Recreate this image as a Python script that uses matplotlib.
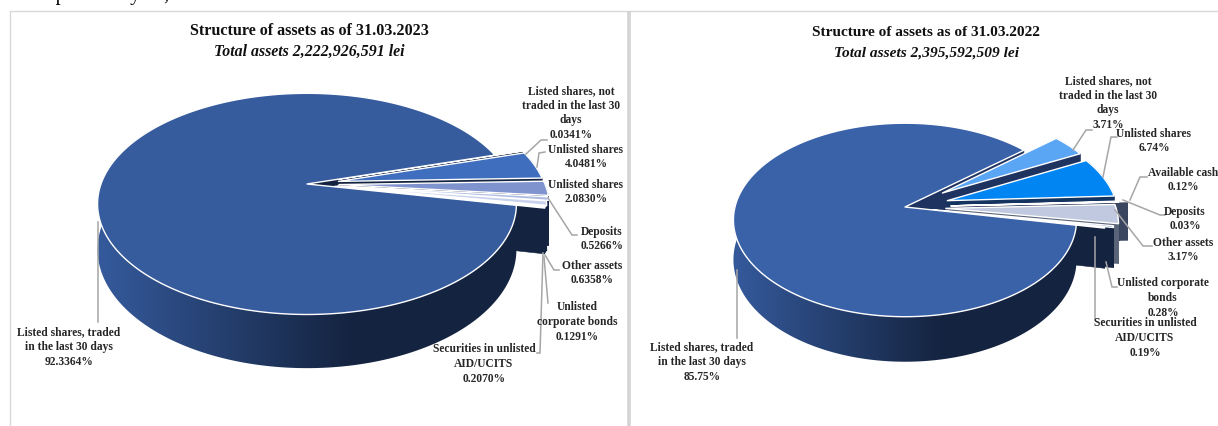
import numpy as np
import matplotlib
matplotlib.use('Agg')
import matplotlib.pyplot as plt
from matplotlib.colors import LinearSegmentedColormap
from matplotlib.patches import Polygon

plt.rcParams['font.family'] = ['Liberation Serif', 'DejaVu Serif']

NAMES_2023 = ['Listed shares, traded\nin the last 30 days', 'Listed shares, not\ntraded in the last 30\ndays',
              'Unlisted shares', 'Unlisted shares', 'Deposits', 'Other assets',
              'Unlisted\ncorporate bonds', 'Securities in unlisted\nAID/UCITS']
VALUES_2023 = [92.3364, 0.0341, 4.0481, 2.0830, 0.5266, 0.6358, 0.1291, 0.2070]
TEXT_2023 = ['92.3364%', '0.0341%', '4.0481%', '2.0830%', '0.5266%', '0.6358%', '0.1291%', '0.2070%']

NAMES_2022 = ['Listed shares, traded\nin the last 30 days', 'Listed shares, not\ntraded in the last 30\ndays',
              'Unlisted shares', 'Available cash', 'Deposits', 'Other assets',
              'Unlisted corporate\nbonds', 'Securities in unlisted\nAID/UCITS']
VALUES_2022 = [85.75, 3.71, 6.74, 0.12, 0.03, 3.17, 0.28, 0.19]
TEXT_2022 = ['85.75%', '3.71%', '6.74%', '0.12%', '0.03%', '3.17%', '0.28%', '0.19%']

COLORS_2023 = ['#375C9E', '#2F5597', '#3F6EBE', '#7F93CF', '#AEBCE3', '#C9D2EC', '#DDE3F4', '#EEF1F9']
WALLS_2023 = ['#14233F'] * 8
COLORS_2022 = ['#3A62A8', '#5BA5F5', '#0085F2', '#1F4E9A', '#2F5597', '#C1C9E0', '#3F6EBE', '#8FA2D4']
WALLS_2022 = ['#1F3360', '#1F3360', '#14335F', '#3A4660', '#3A4660', '#5A6478', '#14233F', '#14233F']

# how far each slice is pulled out, share of the radius
EXPLODE_2023 = [0, 0.155, 0.155, 0.155, 0.15, 0.14, 0.135, 0.13]
EXPLODE_2022 = [0, 0.27, 0.26, 0.32, 0.27, 0.24, 0.21, 0.16]

# label centres, in pixels of the picture
LABEL_XY_2023 = [(69, 347), (571, 113), (586, 157), (586, 192), (602, 239), (592, 273), (577, 322), (484, 364)]
LABEL_XY_2022 = [(702, 362), (1108, 103), (1154, 141), (1183, 180), (1185, 219), (1183, 250), (1163, 298), (1145, 338)]

LEADERS_2023 = [
    [(98, 222), (98, 322)],
    [(526, 154), (541, 140), (547, 140)],
    [(537, 167), (539, 153), (545, 152)],
    [(548, 198), (572, 235), (577, 235)],
    [(545, 255), (554, 270), (559, 270)],
    [(544, 257), (548, 303)],
    [(543, 253), (540, 353), (537, 353)],
]
LEADERS_2022 = [
    [(737, 270), (737, 338)],
    [(1073, 150), (1086, 130), (1092, 130)],
    [(1103, 177), (1111, 137), (1117, 137)],
    [(1130, 200), (1140, 177), (1147, 177)],
    [(1123, 200), (1160, 215), (1165, 215)],
    [(1115, 210), (1143, 246), (1152, 246)],
    [(1106, 262), (1112, 287), (1117, 287)],
    [(1095, 237), (1095, 320)],
]


class Pie3D:
    def __init__(self, ax, cx, cy, rx, ry, k, depth):
        self.ax, self.cx, self.cy, self.rx, self.ry, self.k, self.depth = ax, cx, cy, rx, ry, k, depth

    def project(self, X, Y, z=0.0):
        X, Y = np.asarray(X, float), np.asarray(Y, float)
        w = 1 + self.k * Y
        return self.cx + self.rx * X / w, self.cy - self.ry * Y / w + z * self.depth / w

    def arc(self, t0, t1, off):
        t = np.radians(np.linspace(t0, t1, max(int(abs(t1 - t0) * 2), 4)))
        return off[0] + np.cos(t), off[1] + np.sin(t)

    def top(self, t0, t1, off, color):
        X, Y = self.arc(t0, t1, off)
        px, py = self.project(np.r_[off[0], X], np.r_[off[1], Y])
        self.ax.fill(px, py, facecolor=color, edgecolor='white', lw=1.0, joinstyle='round')

    def side(self, t, off, color):
        X = np.array([off[0], off[0] + np.cos(np.radians(t))])
        Y = np.array([off[1], off[1] + np.sin(np.radians(t))])
        x0, y0 = self.project(X, Y)
        x1, y1 = self.project(X[::-1], Y[::-1], 1)
        self.ax.fill(np.r_[x0, x1], np.r_[y0, y1], facecolor=color, edgecolor=color, lw=0.4)

    def wall(self, t0, t1, off, color, fade=None):
        X, Y = self.arc(t0, t1, off)
        x0, y0 = self.project(X, Y)
        x1, y1 = self.project(X, Y, 1)
        px, py = np.r_[x0, x1[::-1]], np.r_[y0, y1[::-1]]
        if fade is None:
            self.ax.fill(px, py, facecolor=color, edgecolor=color, lw=0.4)
            return
        # outer wall of the big slice: lighter on the left, dark from the middle on
        shape = Polygon(np.c_[px, py], closed=True, transform=self.ax.transData, fc='none', ec='none')
        self.ax.add_patch(shape)
        cmap = LinearSegmentedColormap.from_list('wall', [fade, color])
        left = px.min() - 1
        right = left + self.rx * 1.25
        grad = np.linspace(0, 1, 256).reshape(1, -1)
        self.ax.imshow(grad, cmap=cmap, aspect='auto', clip_path=shape, interpolation='bilinear',
                       extent=(left, right, py.max() + 1, py.min() - 1))
        self.ax.imshow(np.ones((1, 1)), cmap=cmap, vmin=0, vmax=1, aspect='auto', clip_path=shape,
                       extent=(right - 0.5, px.max() + 1, py.max() + 1, py.min() - 1))


def draw_pie(ax, values, colors, walls, explode, names, texts, label_xy, leaders, big_end,
             cx, cy, rx, ry, k, depth, fade):
    pie = Pie3D(ax, cx, cy, rx, ry, k, depth)
    angles = np.array(values) / sum(values) * 360
    big_start = big_end - 360 + angles[0]

    pie.side(big_end, (0, 0), walls[0])

    t = big_end
    for val, col, wal, e in zip(angles[1:], colors[1:], walls[1:], explode[1:]):
        t1 = t - val
        mid = np.radians((t + t1) / 2)
        off = (e * np.cos(mid), e * np.sin(mid))
        pie.side(t1, off, wal)
        pie.wall(t, t1, off, wal)
        pie.top(t, t1, off, col)
        t = t1

    pie.wall(big_start, big_start - 205, (0, 0), '#14233F', fade=fade)
    pie.top(big_start, big_start - angles[0], (0, 0), colors[0])

    for pts in leaders:
        xs, ys = zip(*pts)
        ax.plot(xs, ys, color='#A6A6A6', lw=1.1, solid_joinstyle='miter')
    for name, txt, (x, y) in zip(names, texts, label_xy):
        ax.text(x, y, name + '\n' + txt, ha='center', va='center', fontsize=8.3,
                fontweight='bold', color='#262626', linespacing=1.3)


fig = plt.figure(figsize=(12.18, 4.26), dpi=100)
ax = fig.add_axes([0, 0, 1, 1])
ax.axis('off')

# frame of the two panels
ax.plot([1218, 10, 10], [10.5, 10.5, 426], color='#D9D9D9', lw=1.0)
ax.plot([629, 629], [11, 426], color='#D4D4D4', lw=2.6, solid_capstyle='butt')

# cut-off line of the page text above the charts
ax.text(26, 0, 'the previous year,', fontsize=14.5, color='black', va='baseline')

draw_pie(ax, VALUES_2023, COLORS_2023, WALLS_2023, EXPLODE_2023, NAMES_2023, TEXT_2023, LABEL_XY_2023, LEADERS_2023,
         16.5, 307, 184, 206, 107, 0.18, 44, '#355A9C')
draw_pie(ax, VALUES_2022, COLORS_2022, WALLS_2022, EXPLODE_2022, NAMES_2022, TEXT_2022, LABEL_XY_2022, LEADERS_2022,
         40.5, 905, 207, 170, 95, 0.134, 39, '#355A9C')

ax.text(309, 31, 'Structure of assets as of 31.03.2023', ha='center', va='center',
        fontsize=11.6, fontweight='bold', color='#111111')
ax.text(309, 52, 'Total assets 2,222,926,591 lei', ha='center', va='center',
        fontsize=11.4, fontweight='bold', style='italic', color='#111111')
ax.text(926, 33, 'Structure of assets as of 31.03.2022', ha='center', va='center',
        fontsize=11.1, fontweight='bold', color='#111111')
ax.text(927, 53, 'Total assets 2,395,592,509 lei', ha='center', va='center',
        fontsize=11.1, fontweight='bold', style='italic', color='#111111')

# imshow resets the limits, so they are set last
ax.set_xlim(0, 1218)
ax.set_ylim(426, 0)

fig.savefig('out.png', dpi=100)
